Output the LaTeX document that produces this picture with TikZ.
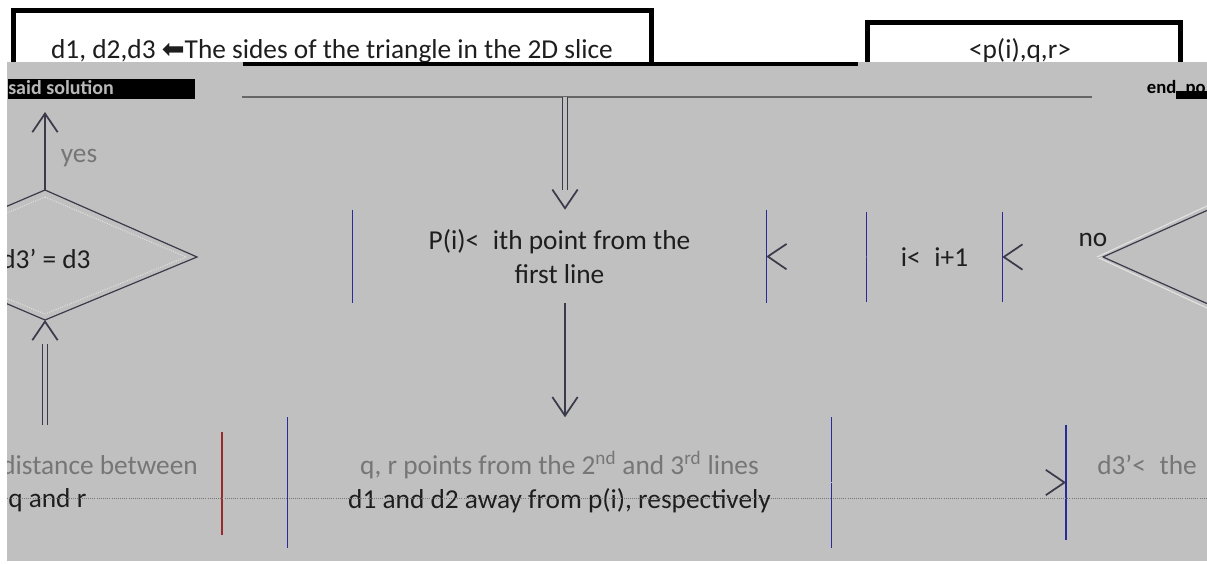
\documentclass[tikz,border=0pt]{standalone}
\usepackage{fontspec}
\setmainfont{Carlito}
\newfontfamily\symfont{DejaVu Sans}
\usetikzlibrary{arrows.meta,calc}
\definecolor{bg}{HTML}{C0C0C0}
\definecolor{ink}{HTML}{1E1E1E}
\definecolor{faint}{HTML}{767676}
\definecolor{edge}{HTML}{3A3A4A}
\definecolor{navy}{HTML}{2A2A9A}
\definecolor{redl}{HTML}{9A2A2A}
\begin{document}
\begin{tikzpicture}[x=0.75pt,y=-0.75pt,
  every node/.style={font=\fontsize{20.5}{25.5}\selectfont, text=ink, inner sep=0pt},
  txt/.style={align=center},
  bracket/.style={draw=#1, line width=0.9pt},
  tip/.style={-{Straight Barb[length=14pt,width=19pt,line width=1.3pt,color=edge]}},
  hidden/.style={tip, draw=bg, line width=0.6pt},
  vis/.style={tip, draw=edge, line width=0.9pt},
  dblshaft/.style={draw=edge, line width=0.6pt, double=bg, double distance=2.6pt}
]
\useasboundingbox (0,0) rectangle (1207,564);
\fill[white] (0,0) rectangle (1207,564);
% top boxes
\draw[line width=3.75pt, line cap=round] (13,66) |- (651,10) -- (651,66);
\node (t1) at (332,51) {d1, d2,d3 {\symfont ⬅}The sides of the triangle in the 2D slice};
\draw[line width=3.75pt, line cap=round] (867,66) |- (1180,22) -- (1180,66);
\node (t2) at (1020,51) {<p(i),q,r>};
% grey field
\fill[bg] (7,62) rectangle (1207,561);
\draw[line width=3pt] (243,63.5) -- (858,63.5);
\begin{scope}
\clip (7,62) rectangle (1207,561);
\fill[black] (8,79) rectangle (195,99);
\node[anchor=west, text=white!72!black, font=\bfseries\fontsize{15}{15}\selectfont] (ss) at (8,88) {said solution};
\fill[black] (1176,91) rectangle (1207,99);
\node[anchor=east, text=black, font=\bfseries\fontsize{14}{14}\selectfont] (ep) at (1206,88) {end\_po};
\draw[black!60, line width=1.2pt] (242,97) -- (1092,97);
\coordinate (topline) at (565,97);
% middle row
\node[txt, minimum width=309.75pt, minimum height=69.75pt] (p) at (559.5,256.5) {P(i)<\enspace ith point from the\\first line};
\draw[bracket=navy] (p.north west) -- (p.south west);
\draw[bracket=navy] (p.north east) -- (p.south east);
\node[txt, minimum width=101.25pt, minimum height=67.5pt] (i) at (934.5,257) {i<\enspace i+1};
\draw[bracket=navy] (i.north west) -- (i.south west);
\draw[bracket=navy] (i.north east) -- (i.south east);
% right diamond
\coordinate (dr) at (1103,257);
\draw[edge, line width=0.9pt] (1300,168.8) -- (dr) -- (1300,345.2);
\draw[white!55!bg, line width=0.8pt] (1300,162.8) -- (1097,257) -- (1300,351.2);
\node (no) at (1093,240) {no};
% left diamond
\coordinate (lt) at (45,190);
\coordinate (lr) at (197,257);
\coordinate (lb) at (45,320);
\coordinate (ll) at (-107,255);
\draw[edge, line width=0.9pt] (lt) -- (lr) -- (lb) -- (ll) -- cycle;
\draw[white!50!bg, line width=0.8pt, densely dotted] (45,197) -- (186,257) -- (45,314) -- (-96,256) -- cycle;
\node (dq) at (46,259) {d3’ = d3};
\coordinate (yesend) at (45,112);
\draw[vis] (lt) -- (yesend);
\node[text=faint] (yes) at (79,158) {yes};
\coordinate (lbin) at (45,425);
\draw[dblshaft] (lbin) -- ($(lb)+(0,24)$);
\draw[vis, draw=bg] ($(lb)+(0,24)$) -- (lb);
% bottom row
\node[txt, minimum width=407.25pt, minimum height=97.5pt] (q) at (559.5,482.5) {\textcolor{faint}{q, r points from the 2\textsuperscript{nd} and 3\textsuperscript{rd} lines}\\d1 and d2 away from p(i), respectively};
\draw[bracket=navy] (q.north west) -- (q.south west);
\draw[bracket=navy] (q.north east) -- (q.south east);
\node[anchor=base east, text=faint] (dl1) at (198,474) {distance between};
\node[anchor=base west] (dl2) at (8,507) {q and r};
\draw[bracket=redl] (222,432) -- (222,535);
\node[minimum width=1pt, minimum height=86.25pt, anchor=west] (d3b) at (1066,482.5) {};
\draw[bracket=navy] (d3b.north west) -- (d3b.south west);
\node[anchor=base west, text=faint] (d3t) at (1097,474) {d3’<\enspace the};
\draw[faint, densely dotted, line width=0.6pt] (7,498) -- (1207,498);
% connectors
\draw[dblshaft] (topline) -- ($(topline |- p.north)+(0,-20)$);
\draw[hidden] ($(topline |- p.north)+(0,-20)$) -- (topline |- p.north);
\draw[vis] (topline |- p.south) -- (topline |- q.north);
\draw[hidden] (i.west) -- (p.east);
\draw[hidden] (dr) -- (i.east);
\draw[hidden] (q.east) -- (d3b.west);
\end{scope}
\end{tikzpicture}
\end{document}
